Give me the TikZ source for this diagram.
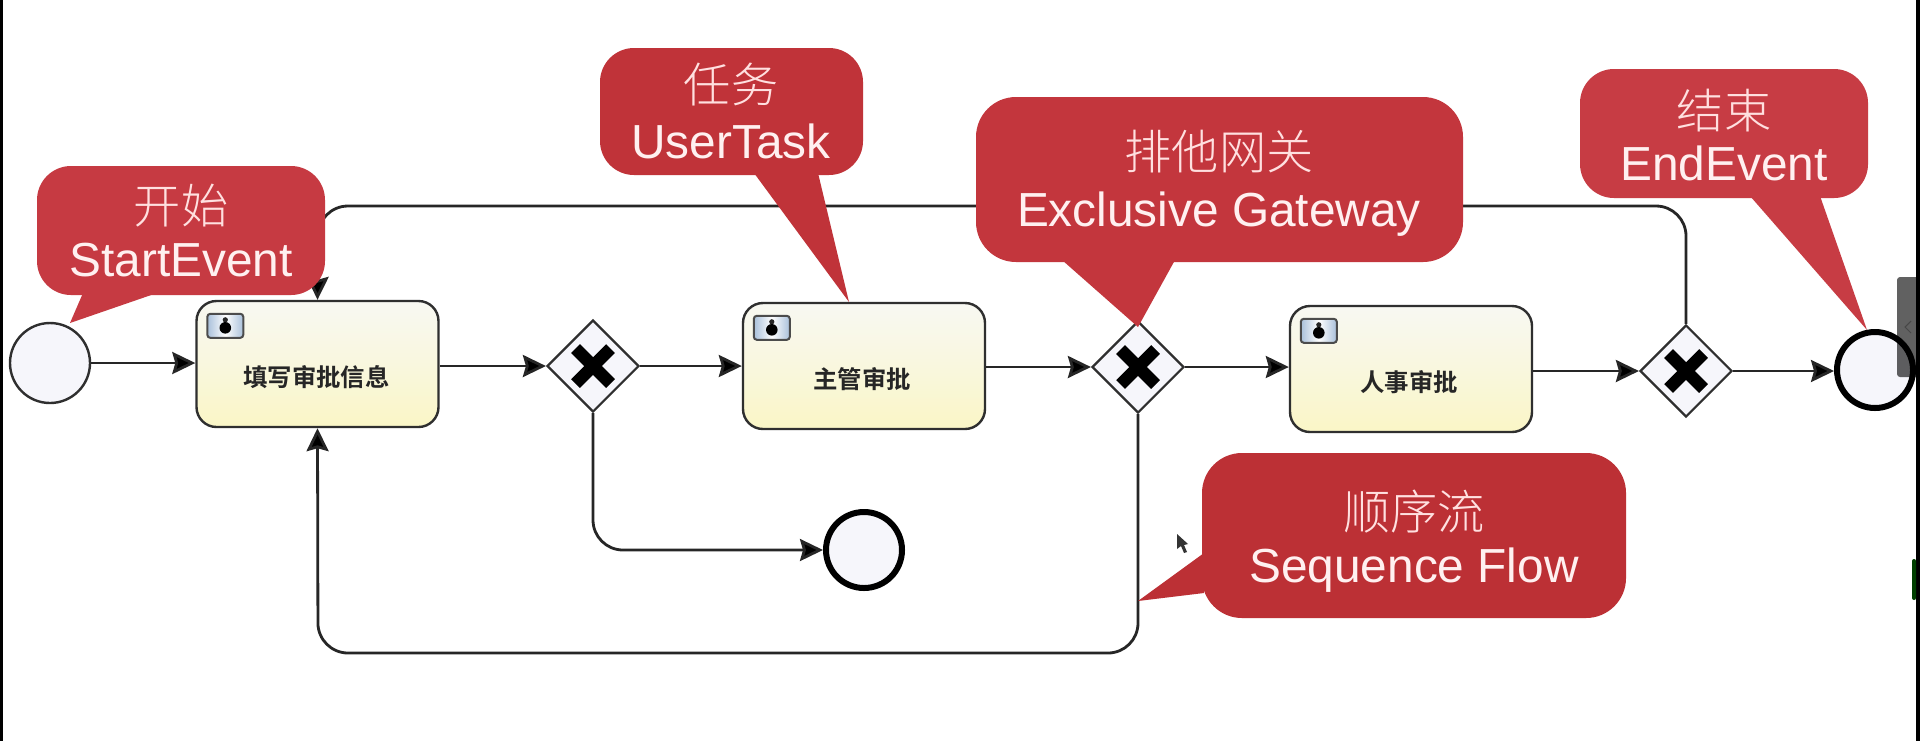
\documentclass[tikz,border=0pt]{standalone}
\usepackage{fontspec}
\setmainfont{Liberation Sans}
\newfontfamily\cjkthin{Noto Sans CJK SC Light}
\newfontfamily\cjkbold{Noto Sans CJK SC Bold}
\usetikzlibrary{arrows.meta,calc,shapes.geometric}
\definecolor{taskline}{HTML}{2F2F2F}
\definecolor{evfill}{HTML}{F6F6FB}
\definecolor{tasktop}{HTML}{F8F8F2}
\definecolor{taskmid}{HTML}{F9F7DE}
\definecolor{taskbot}{HTML}{FAF6C6}
\definecolor{iconside}{HTML}{A9C0DA}
\definecolor{ca}{HTML}{C63A42}
\definecolor{cb}{HTML}{C03339}
\definecolor{cc}{HTML}{C3363D}
\definecolor{cd}{HTML}{C73C44}
\definecolor{ce}{HTML}{BC3035}
\tikzset{
  x=0.5pt,y=-0.5pt,
  flow/.style={draw=black!85,line width=1.4pt,rounded corners=15pt},
  arr/.style={flow,-{Stealth[length=11.5pt,width=11pt,inset=1.5pt,fill=black]}},
  ev/.style={circle,draw=taskline,fill=evfill,line width=1.2pt,minimum size=40pt,inner sep=0pt},
  endev/.style={circle,draw=black,fill=evfill,line width=3pt,minimum size=38pt,inner sep=0pt},
  taskbox/.style={rectangle,rounded corners=10pt,draw=taskline,line width=1.2pt,top color=tasktop,bottom color=taskbot,middle color=taskmid,minimum width=121pt,minimum height=63pt,inner sep=0pt},
  tasklabel/.style={font=\cjkbold\fontsize{12.2}{13}\selectfont,text=black!85},
  gw/.style={diamond,aspect=1,draw=taskline,fill=evfill,line width=1.1pt,minimum size=46pt,inner sep=0pt},
  cross/.style={line width=6.2pt,draw=black},
  ctext/.style={align=center,text=white!94!red,font=\fontsize{23.9}{29}\selectfont},
  zh/.style={font=\cjkthin\fontsize{23.6}{28}\selectfont,text=white!88!red},
}
\newcommand{\usericon}[1]{%
  \draw[draw=black!70,left color=iconside,right color=iconside,middle color=white,line width=1pt,rounded corners=1.5pt] ($(#1.north west)+(12,14)$) rectangle +(36,24);
  \fill[black!85] ($(#1.north west)+(30,20)$) circle (1.3pt);
  \fill[black] ($(#1.north west)+(30,28)$) circle (2.9pt);
}
\newcommand{\gwcross}[1]{%
  \draw[cross] ($(#1)+(-17.5,-17.5)$) -- ($(#1)+(17.5,17.5)$);
  \draw[cross] ($(#1)+(-17.5,17.5)$) -- ($(#1)+(17.5,-17.5)$);
}
\begin{document}
\begin{tikzpicture}
\useasboundingbox (0,0) rectangle (1920,741);
\fill[white] (0,0) rectangle (1920,741);
\fill[black] (0,0) rectangle (3,741);
\fill[black] (1916,0) rectangle (1920,741);

\node[ev] (start) at (50,363) {};
\node[taskbox] (t1) at (317.5,364) {};
\node[tasklabel] at (316.5,377) {填写审批信息};
\node[gw] (g1) at (593,366) {};
\node[taskbox] (t2) at (864,366) {};
\node[tasklabel] at (862,379) {主管审批};
\node[gw] (g2) at (1138,367) {};
\node[taskbox] (t3) at (1411,369) {};
\node[tasklabel] at (1409,382) {人事审批};
\node[gw] (g3) at (1686,371) {};
\node[endev] (e1) at (1875,370) {};
\node[endev] (e2) at (864,550) {};
\gwcross{g1}\gwcross{g2}\gwcross{g3}
\usericon{t1}\usericon{t2}\usericon{t3}

\draw[arr] (start) -- (t1.west |- start);
\draw[arr] (t1.east |- g1.west) -- (g1.west);
\draw[arr] (g1.east) -- (t2.west |- g1.east);
\draw[arr] (t2.east |- g2.west) -- (g2.west);
\draw[arr] (g2.east) -- (t3.west |- g2);
\draw[arr] (t3.east |- g3.west) -- (g3.west);
\draw[arr] (g3.east) -- (e1.west |- g3.east);
\draw[arr] (g1.south) |- (e2.west);
\coordinate (low) at (318,653);
\draw[arr] (g2.south) |- (low) -- (t1.south);
\coordinate (high) at (318,206);
\draw[arr] (g3.north) |- (high) -- (t1.north);

% callouts
\fill[ca,rounded corners=17pt] (37,166) rectangle (325,295);
\fill[ca] (83,293) -- (70,323) -- (157,293) -- cycle;
\node[zh] at (181,206) {开始};
\node[ctext] at (181,260) {StartEvent};

\fill[cb,rounded corners=17pt] (600,48) rectangle (863,175);
\fill[cb] (754,173) -- (849,302) -- (818,173) -- cycle;
\node[zh] at (731,85) {任务};
\node[ctext] at (731,141) {UserTask};

\fill[cc,rounded corners=20pt] (976,97) rectangle (1463,262);
\fill[cc] (1062,260) -- (1138,327) -- (1175,260) -- cycle;
\node[zh] at (1219,152) {排他网关};
\node[ctext] at (1219,214) {Exclusive Gateway};

\fill[cd,rounded corners=17pt] (1580,69) rectangle (1868,198);
\fill[cd] (1750,196) -- (1867,330) -- (1820,196) -- cycle;
\node[zh] at (1724,111) {结束};
\node[ctext] at (1724,163) {EndEvent};

\fill[ce,rounded corners=20pt] (1202,453) rectangle (1626,618);
\fill[ce] (1204,553) -- (1138,601) -- (1204,593) -- cycle;
\node[zh] at (1414,512) {顺序流};
\node[ctext] at (1414,570) {Sequence Flow};

% scroll tab, side widget and cursor
\fill[black,opacity=.62,rounded corners=1.5pt] (1897,277) rectangle (1920,377);
\draw[black!72,line width=0.5pt] (1911,321) -- (1905,327) -- (1911,333);
\fill[black!75!green,rounded corners=1pt] (1912,559) rectangle (1916,600);
\fill[black!80] (1177,534) -- (1177,549) -- (1181,546) -- (1184,553) -- (1187,552) -- (1184,545) -- (1188,544) -- cycle;
\end{tikzpicture}
\end{document}
